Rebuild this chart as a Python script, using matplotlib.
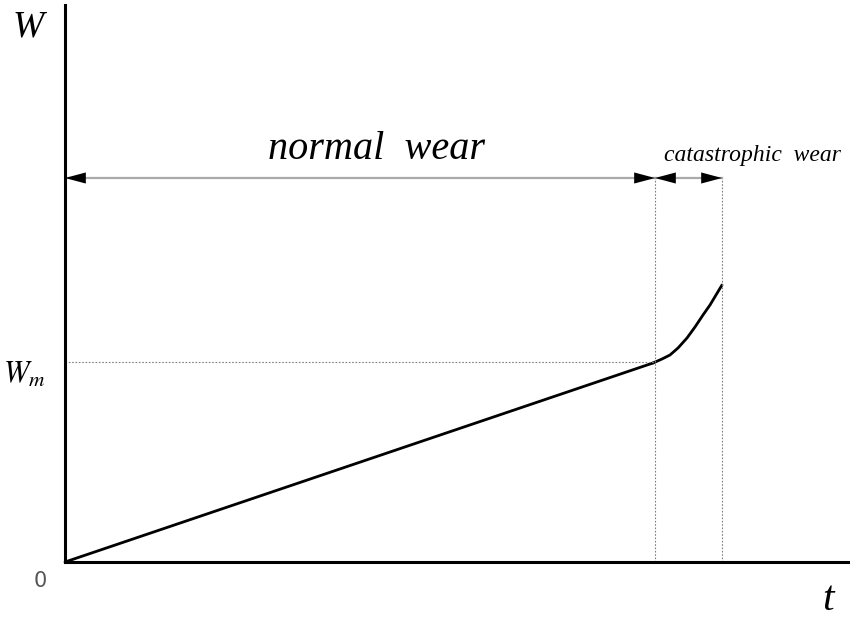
import matplotlib
matplotlib.use("Agg")
import matplotlib.pyplot as plt

# Data (t, W) (arbitrary units)
t_normal = [0, 588]
w_normal = [0, 199]
t_cat = [588, 597, 605, 613, 622, 630, 638, 645, 651, 657]
w_cat = [199, 203, 207, 214, 224, 235, 247, 257, 267, 277]
t_m = 590
t_end = 657
w_m = 200
arrow_y = 384

xlim = (0, 785)
ylim = (0, 557)

fig = plt.figure(figsize=(8.5, 6.19), dpi=100)
ax = fig.add_axes([65/850, 57/619, 785/850, 557/619])
ax.set_xlim(*xlim)
ax.set_ylim(*ylim)
for s in ["top", "right"]:
    ax.spines[s].set_visible(False)
for s in ["left", "bottom"]:
    ax.spines[s].set_linewidth(2.2)
    ax.spines[s].set_color("black")
ax.set_xticks([])
ax.set_yticks([])

ax.plot(t_normal, w_normal, color="black", lw=2.0, solid_capstyle="round",
        solid_joinstyle="round", clip_on=False)
ax.plot(t_cat, w_cat, color="black", lw=2.0, solid_capstyle="round", solid_joinstyle="round")

# guide lines
ax.plot([0, t_m], [w_m, w_m], color="gray", lw=0.8, ls=(0, (1.5, 1.5)))
ax.plot([t_m, t_m], [0, arrow_y], color="gray", lw=0.8, ls=(0, (1.5, 1.5)))
ax.plot([t_end, t_end], [0, arrow_y], color="gray", lw=0.8, ls=(0, (1.5, 1.5)))

def harrow(x0, x1, y):
    ax.plot([x0, x1], [y, y], color="#aaaaaa", lw=1.6)
    for xa, xb in [(x0, x1), (x1, x0)]:
        ax.annotate("", xy=(xa, y), xytext=(xa + (8 if xb > xa else -8), y),
                    arrowprops=dict(arrowstyle="-|>,head_length=1.5,head_width=0.4",
                                    color="black", lw=0, shrinkA=0, shrinkB=0))

harrow(0, t_m, arrow_y)
harrow(t_m, t_end, arrow_y)

serif = ["Liberation Serif", "DejaVu Serif"]
ax.text(311, 403, "normal  wear", fontsize=29, style="italic", family=serif,
        ha="center", va="baseline")
ax.text(687, 401, "catastrophic  wear", fontsize=17, style="italic", family=serif,
        ha="center", va="baseline")

fig.text(28/850, 1 - 27/619, "W", fontsize=27, style="italic", family=serif,
         ha="center", va="center")
fig.text(24/850, 1 - 374/619, "$W_m$", fontsize=22, ha="center", va="center",
         math_fontfamily="stix")
fig.text(40/850, 1 - 581/619, "0", fontsize=15, family=["DejaVu Sans"], color="#555555",
         ha="center", va="center")
fig.text(828/850, 1 - 600/619, "t", fontsize=30, style="italic", family=serif,
         ha="center", va="center")

fig.savefig("out.png", dpi=100)
